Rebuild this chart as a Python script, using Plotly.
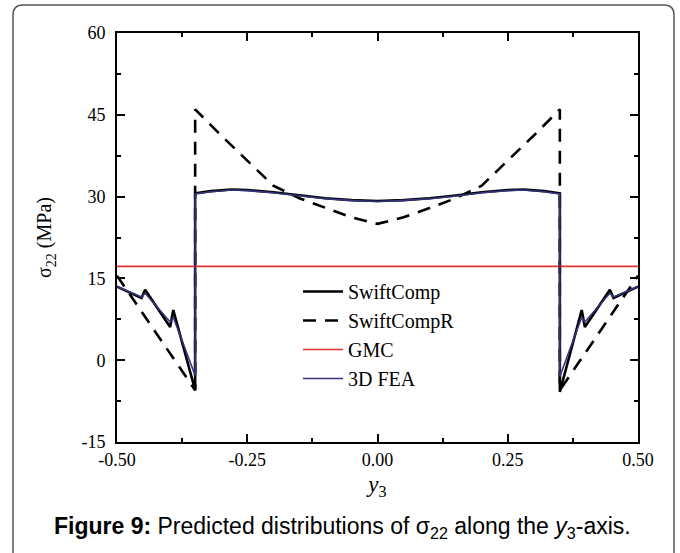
import plotly.graph_objects as go

# ---- data ----
sc_x = [-0.5, -0.453, -0.446, -0.398, -0.392, -0.35, -0.35, -0.32, -0.28, -0.25, -0.20, -0.15, -0.10, -0.05, 0.0,
        0.05, 0.10, 0.15, 0.20, 0.25, 0.28, 0.32, 0.35, 0.35, 0.392, 0.398, 0.446, 0.453, 0.5]
sc_y = [13.5, 11.4, 12.9, 6.1, 9.2, -5.5, 30.6, 31.0, 31.3, 31.2, 30.8, 30.2, 29.7, 29.35, 29.2,
        29.35, 29.7, 30.2, 30.8, 31.2, 31.3, 31.0, 30.6, -5.8, 9.2, 6.1, 12.9, 11.4, 13.5]

scr_x = [-0.5, -0.35, -0.35, -0.30, -0.25, -0.20, -0.15, -0.10, -0.05, 0.0,
         0.05, 0.10, 0.15, 0.20, 0.25, 0.30, 0.35, 0.35, 0.5]
scr_y = [15.5, -5.5, 46.0, 41.2, 36.6, 32.0, 29.7, 27.9, 26.2, 25.0,
         26.2, 27.9, 29.7, 32.0, 36.6, 41.2, 46.0, -5.5, 15.5]

gmc_x = [-0.5, 0.5]
gmc_y = [17.2, 17.2]

fea_x = [-0.5, -0.453, -0.446, -0.398, -0.392, -0.35, -0.35, -0.32, -0.28, -0.25, -0.20, -0.15, -0.10, -0.05, 0.0,
         0.05, 0.10, 0.15, 0.20, 0.25, 0.28, 0.32, 0.35, 0.35, 0.392, 0.398, 0.446, 0.453, 0.5]
fea_y = [13.5, 11.6, 12.3, 7.0, 7.9, -2.8, 30.5, 30.9, 31.2, 31.1, 30.7, 30.1, 29.6, 29.3, 29.1,
         29.3, 29.6, 30.1, 30.7, 31.1, 31.2, 30.9, 30.5, -3.0, 7.9, 7.0, 12.3, 11.6, 13.5]

x_ticks = [-0.50, -0.25, 0.00, 0.25, 0.50]
x_labels = ["-0.50", "-0.25", "0.00", "0.25", "0.50"]
y_ticks = [-15, 0, 15, 30, 45, 60]
y_labels = ["-15", "0", "15", "30", "45", "60"]

SERIF = "Liberation Serif, Times New Roman, serif"
SANS = "Liberation Sans, Arial, sans-serif"

fig = go.Figure()
fig.add_trace(go.Scatter(x=sc_x, y=sc_y, mode="lines", name="SwiftComp",
                         line=dict(color="black", width=2.6)))
fig.add_trace(go.Scatter(x=scr_x, y=scr_y, mode="lines", name="SwiftCompR",
                         line=dict(color="black", width=2.6, dash="13px,9px")))
fig.add_trace(go.Scatter(x=gmc_x, y=gmc_y, mode="lines", name="GMC",
                         line=dict(color="#e8302c", width=1.6)))
fig.add_trace(go.Scatter(x=fea_x, y=fea_y, mode="lines", name="3D FEA",
                         line=dict(color="#34347e", width=1.6)))

# plot area in pixels: x 117..638, y 33..442
L, R, T, B = 117, 638, 33, 442
W, H = R - L, B - T

def px(xp):
    return (xp - L) / W

def py(yp):
    return (B - yp) / H

# rounded frame around figure (open at bottom)
x0, x1, y0, y1 = 13, 674, 5, 553
r = 10
path = (f"M {px(x0)},{py(y1)} L {px(x0)},{py(y0 + r)} "
        f"Q {px(x0)},{py(y0)} {px(x0 + r)},{py(y0)} "
        f"L {px(x1 - r)},{py(y0)} Q {px(x1)},{py(y0)} {px(x1)},{py(y0 + r)} "
        f"L {px(x1)},{py(y1)}")
fig.add_shape(type="path", path=path, xref="paper", yref="paper",
              line=dict(color="#555555", width=1.5), layer="below")

fig.add_annotation(
    text="<b>Figure 9:</b> Predicted distributions of σ<sub>22</sub> along the <i>y</i><sub>3</sub>-axis.",
    x=px(342), y=py(527), xref="paper", yref="paper", showarrow=False,
    font=dict(family=SANS, size=23, color="black"), xanchor="center", yanchor="middle")

axis_common = dict(
    showline=True, linecolor="black", linewidth=2, mirror="allticks",
    ticks="inside", ticklen=8, tickwidth=2, tickcolor="black",
    showgrid=False, zeroline=False,
    tickfont=dict(family=SERIF, size=18, color="black"),
)

fig.update_xaxes(range=[-0.5, 0.5], tickvals=x_ticks, ticktext=x_labels,
                 minor=dict(ticks="inside", ticklen=4, tickwidth=1.5, tickcolor="black", dtick=0.125, tick0=0),
                 title=dict(text="<i>y</i><sub>3</sub>", font=dict(family=SERIF, size=23, color="black"), standoff=7),
                 ticklabelstandoff=0,
                 **axis_common)
fig.update_yaxes(range=[-15, 60], tickvals=y_ticks, ticktext=y_labels,
                 minor=dict(ticks="inside", ticklen=4, tickwidth=1.5, tickcolor="black", dtick=7.5, tick0=0),
                 title=dict(text="σ<sub>22</sub> (MPa)", font=dict(family=SERIF, size=20, color="black"), standoff=24),
                 ticklabelstandoff=6,
                 **axis_common)

fig.update_layout(
    width=680, height=553,
    margin=dict(l=L, r=680 - R, t=T, b=553 - B),
    paper_bgcolor="white", plot_bgcolor="white",
    showlegend=True,
    legend=dict(x=px(298), y=py(272), xanchor="left", yanchor="top",
                bgcolor="rgba(0,0,0,0)", borderwidth=0,
                font=dict(family=SERIF, size=20, color="black"),
                itemwidth=40, tracegroupgap=0),
)

fig.write_html("out.html")
